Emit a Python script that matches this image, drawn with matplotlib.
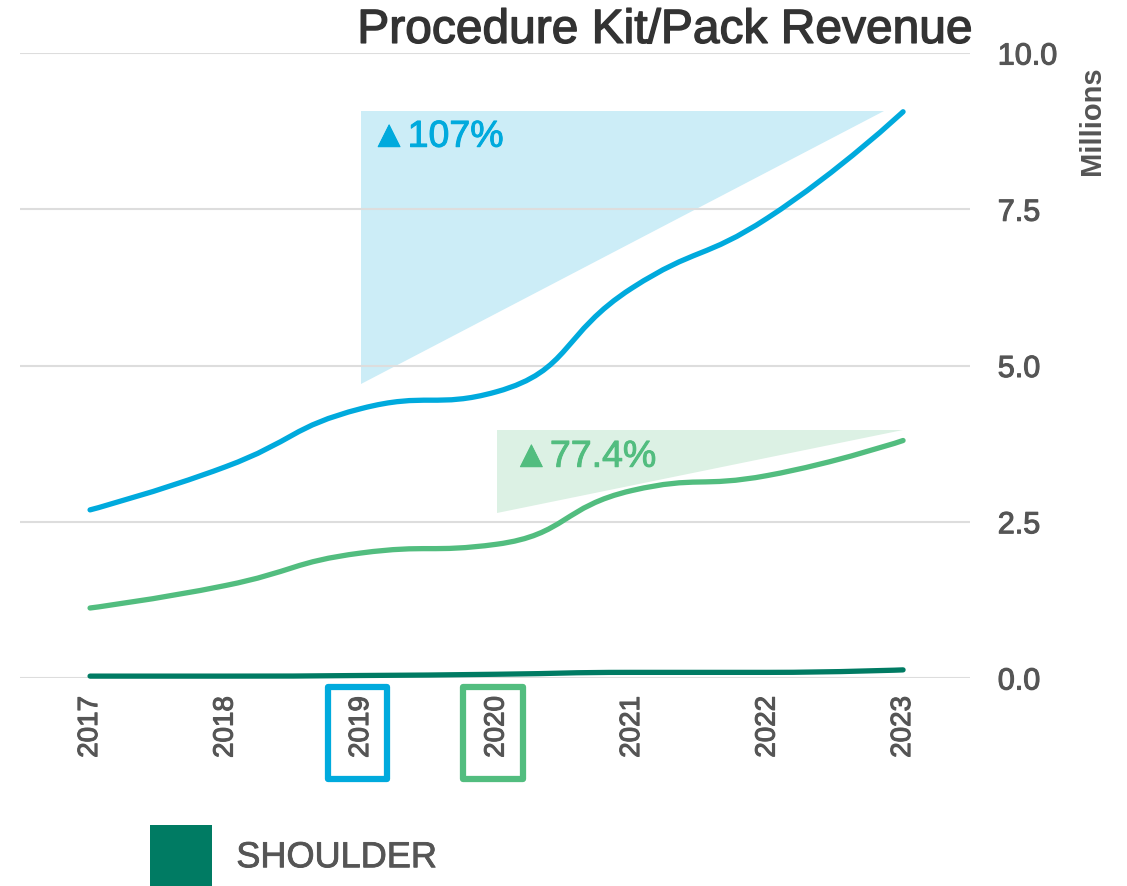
import numpy as np
import matplotlib
matplotlib.use("Agg")
import matplotlib.pyplot as plt
import matplotlib.patheffects as pe
from matplotlib.path import Path
from matplotlib.patches import PathPatch, Patch, Rectangle, Polygon
import matplotlib.transforms as mtransforms

plt.rcParams['font.family'] = ['Liberation Sans', 'DejaVu Sans']

# data (millions)
years = [2017, 2018, 2019, 2020, 2021, 2022, 2023]
blue_vals = [2.69, 3.38, 4.31, 4.58, 6.24, 7.36, 9.06]
green_vals = [1.12, 1.48, 2.00, 2.14, 3.00, 3.24, 3.80]
shoulder_vals = [0.03, 0.03, 0.04, 0.06, 0.09, 0.09, 0.13]

# growth wedges
blue_tri_x = [2019, 2019, 2022.86]
blue_tri_y = [4.70, 9.08, 9.08]
green_tri_x = [2020, 2020, 2023]
green_tri_y = [2.64, 3.97, 3.97]
blue_label = "\u25B2107%"
green_label = "\u25B277.4%"

BLUE = "#00AADD"
BLUE_FILL = "#CCEDF7"
GREEN = "#52BD7F"
GREEN_FILL = "#DCF1E4"
DKGREEN = "#007B63"
GREY = "#555555"


def bold(col, w=0.8):
    return [pe.withStroke(linewidth=w, foreground=col)]


def smooth_path(xs, ys, sx=135.5, sy=62.5, smooth=0.5):
    # bezier smoothing with control points clamped between neighbours
    P = np.column_stack([np.asarray(xs, float) * sx, np.asarray(ys, float) * sy])
    n = len(P)
    cin = [p.copy() for p in P]
    cout = [p.copy() for p in P]
    for i in range(1, n - 1):
        prev, cur, nxt = P[i - 1], P[i], P[i + 1]
        v = (nxt - prev) * smooth
        d0 = np.linalg.norm(cur - prev)
        d1 = np.linalg.norm(nxt - cur)
        r = d1 / (d0 + d1)
        co = cur + v * r
        co = np.minimum(co, np.maximum(nxt, cur))
        co = np.maximum(co, np.minimum(nxt, cur))
        ci = cur - (co - cur) * d0 / d1
        ci = np.minimum(ci, np.maximum(prev, cur))
        ci = np.maximum(ci, np.minimum(prev, cur))
        co = cur + (cur - ci) * d1 / d0
        cin[i], cout[i] = ci, co
    verts = [P[0]]
    codes = [Path.MOVETO]
    for i in range(n - 1):
        verts += [cout[i], cin[i + 1], P[i + 1]]
        codes += [Path.CURVE4] * 3
    verts = np.array(verts) / np.array([sx, sy])
    return Path(verts, codes)


fig = plt.figure(figsize=(11.27, 8.87), dpi=100)
ax = fig.add_axes([20 / 1127, 1 - 679 / 887, 950 / 1127, 625 / 887])

ax.add_patch(Polygon(np.column_stack([blue_tri_x, blue_tri_y]), closed=True,
                     facecolor=BLUE_FILL, edgecolor="none", zorder=0.3))
ax.add_patch(Polygon(np.column_stack([green_tri_x, green_tri_y]), closed=True,
                     facecolor=GREEN_FILL, edgecolor="none", zorder=0.3))

for vals, col in [(blue_vals, BLUE), (green_vals, GREEN), (shoulder_vals, DKGREEN)]:
    ax.add_patch(PathPatch(smooth_path(years, vals), facecolor="none", edgecolor=col,
                           lw=3.8, capstyle="round", clip_on=False, zorder=3))

ax.text(blue_tri_x[0] + 0.07, 8.66, blue_label, color=BLUE, fontsize=27,
        ha="left", va="center", path_effects=bold(BLUE, 0.7))
ax.text(green_tri_x[0] + 0.12, 3.54, green_label, color=GREEN, fontsize=27,
        ha="left", va="center", path_effects=bold(GREEN, 0.7))

ax.set_xlim(2016.483, 2023.494)
ax.set_ylim(0, 10)
ax.set_xticks(years)
ax.set_xticklabels([str(y) for y in years], rotation=90, fontsize=20, color=GREY)
ax.set_yticks([0, 2.5, 5, 7.5, 10])
ax.set_yticklabels(["0.0", "2.5", "5.0", "7.5", "10.0"], fontsize=22, color=GREY)
ax.yaxis.tick_right()
ax.tick_params(axis="y", length=0, pad=20)
ax.tick_params(axis="x", length=0, pad=13)
ax.grid(axis="y", color="#dddddd", lw=1.5)
ax.set_axisbelow(True)
for s in ax.spines.values():
    s.set_visible(False)
for t in ax.xaxis.get_major_ticks():
    t.label1.set_path_effects(bold(GREY, 0.8))
for t in ax.yaxis.get_major_ticks():
    t.label2.set_path_effects(bold(GREY, 0.8))

# highlight boxes around 2019 / 2020 labels
trans = mtransforms.blended_transform_factory(ax.transData, ax.transAxes)
for yr, col in [(2019, BLUE), (2020, GREEN)]:
    ax.add_patch(Rectangle((yr - 0.245, -0.1616), 0.44, 0.1472, transform=trans,
                           fill=False, edgecolor=col, lw=4.5, joinstyle="round",
                           clip_on=False))

fig.text(0.8625, 0.99, "Procedure Kit/Pack Revenue", fontsize=34.5, color="#333333",
         ha="right", va="top", path_effects=bold("#333333", 1.0))
fig.text(1092 / 1127, 1 - 121 / 887, "Millions", fontsize=21, fontweight="bold",
         color=GREY, rotation=90, ha="center", va="center")

leg = fig.legend(handles=[Patch(facecolor=DKGREEN)], labels=["SHOULDER"],
                 loc="center left", bbox_to_anchor=(150 / 1127, 1 - 857 / 887),
                 frameon=False, borderpad=0, borderaxespad=0, fontsize=26,
                 handlelength=1.72, handleheight=2.27, handletextpad=0.67,
                 labelcolor=GREY)
for t in leg.get_texts():
    t.set_path_effects(bold(GREY, 0.6))

fig.savefig("out.png", dpi=100)
